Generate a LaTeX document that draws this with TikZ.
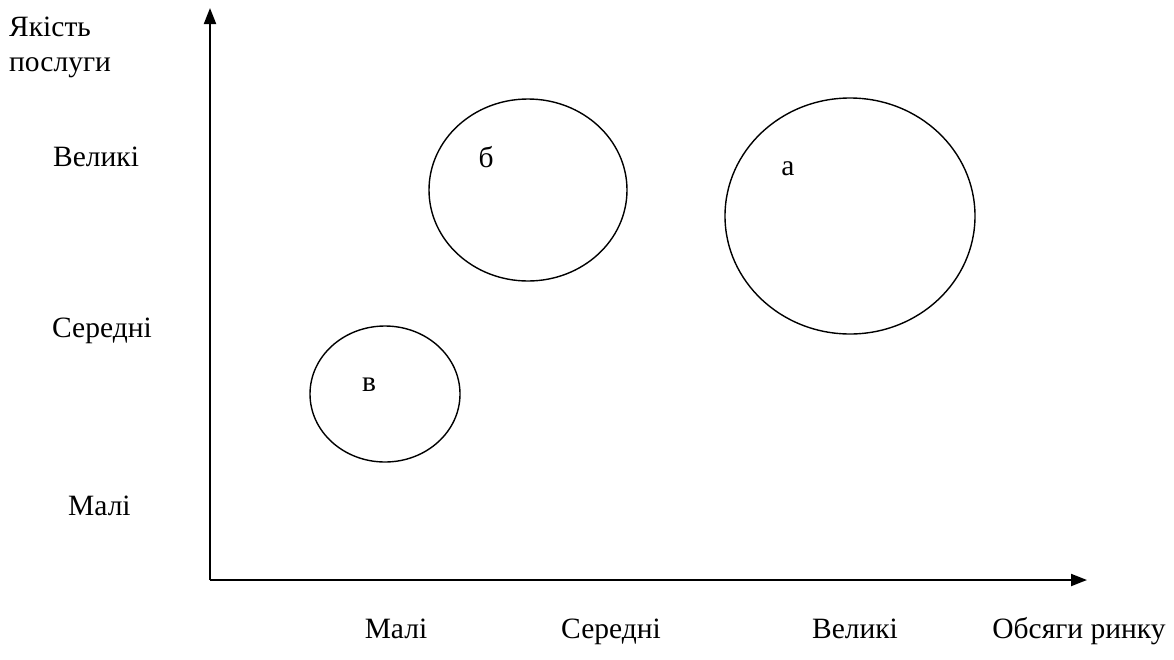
\documentclass[tikz,border=0pt]{standalone}
\usepackage{fontspec}
\setmainfont{Liberation Serif}
\usetikzlibrary{arrows.meta}
\begin{document}
\begin{tikzpicture}[x=1pt,y=-1pt,
  lbl/.style={inner sep=0pt,font=\fontsize{29.5}{34}\selectfont},
  axis/.style={line width=2pt,-{Triangle[length=16pt,width=12pt]}},
  bubble/.style={line width=1.4pt}]
\useasboundingbox (0,0) rectangle (1174,659);
\coordinate (o) at (210,580);
\coordinate (ytop) at (210,8);
\coordinate (xend) at (1087,580);
\draw[axis] (o) -- (ytop);
\draw[axis] (o) -- (xend);
\draw[bubble] (528,190) ellipse [x radius=99, y radius=91];
\draw[bubble] (850,216) ellipse [x radius=125, y radius=118];
\draw[bubble] (385,394) ellipse [x radius=75, y radius=68];
\node[lbl,anchor=base] (lb) at (486,167) {б};
\node[lbl,anchor=base] (la) at (788,175) {а};
\node[lbl,anchor=base] (lv) at (369,391) {в};
\node[lbl,anchor=base west] (yt1) at (9,36) {Якість};
\node[lbl,anchor=base west] (yt2) at (9,71) {послуги};
\node[lbl,anchor=base west] (yh) at (53,166) {Великі};
\node[lbl,anchor=base west] (ym) at (52,337) {Середні};
\node[lbl,anchor=base west] (yl) at (68,515) {Малі};
\node[lbl,anchor=base] (xl) at (396,638) {Малі};
\node[lbl,anchor=base] (xm) at (611,638) {Середні};
\node[lbl,anchor=base] (xh) at (855,638) {Великі};
\node[lbl,anchor=base] (xt) at (1079,638) {Обсяги ринку};
\end{tikzpicture}
\end{document}
